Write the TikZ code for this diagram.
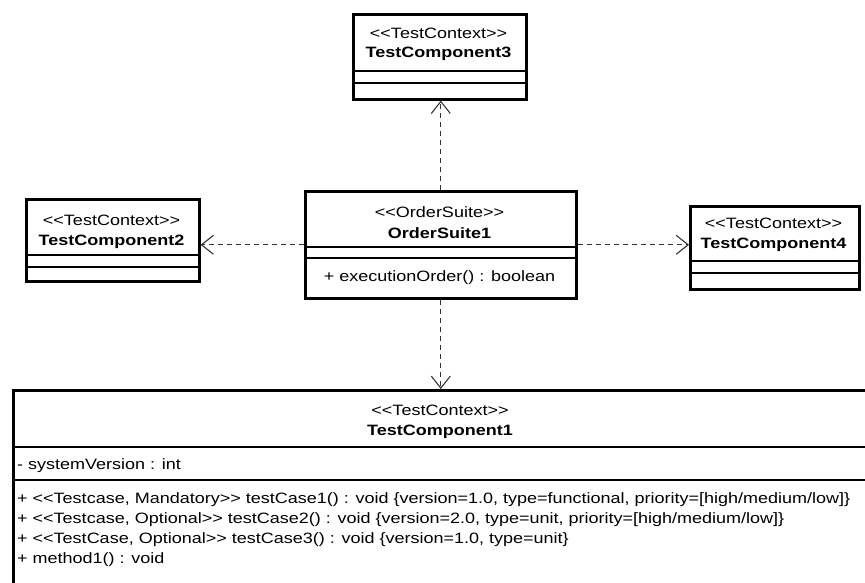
\documentclass[tikz,border=0pt]{standalone}
\usepackage{fontspec}
\newfontfamily\umlfont[FakeStretch=1.2,Ligatures=TeXOff]{Liberation Sans}
\usetikzlibrary{arrows.meta}

\begin{document}
\begin{tikzpicture}[x=1pt,y=1pt,
  classbox/.style={draw=black, line width=2.6pt, fill=white, inner sep=0pt, anchor=north west},
  sepline/.style={draw=black, line width=1.3pt},
  umltext/.style={font=\umlfont\fontsize{15}{17}\selectfont, inner sep=0pt},
  stereo/.style={umltext},
  cname/.style={umltext, font=\umlfont\fontsize{15}{17}\selectfont\bfseries},
  member/.style={umltext, anchor=west},
  dep/.style={draw=black!80, line width=1pt, dash pattern=on 5pt off 4pt,
    -{Straight Barb[length=12pt, width=19pt, line width=1.1pt]}}
]
\useasboundingbox (0,0) rectangle (865,-583);
\clip (0,0) rectangle (865,-583);

% TestComponent3 (top)
\node[classbox, minimum width=173pt, minimum height=85pt] (tc3) at (352,-13) {};
\node[stereo] (tc3s) at (438.5,-33) {<<TestContext>>};
\node[cname] (tc3n) at (438.5,-54) {TestComponent3};
\draw[sepline] (tc3.west |- 0,-71) -- (tc3.east |- 0,-71);
\draw[sepline] (tc3.west |- 0,-83) -- (tc3.east |- 0,-83);

% TestComponent2 (left)
\node[classbox, minimum width=173pt, minimum height=82pt] (tc2) at (25,-198) {};
\node[stereo] (tc2s) at (111.5,-220) {<<TestContext>>};
\node[cname] (tc2n) at (111.5,-242) {TestComponent2};
\draw[sepline] (tc2.west |- 0,-255) -- (tc2.east |- 0,-255);
\draw[sepline] (tc2.west |- 0,-267) -- (tc2.east |- 0,-267);

% OrderSuite1 (centre)
\node[classbox, minimum width=271pt, minimum height=107pt] (os) at (304,-190) {};
\node[stereo] (oss) at (439.5,-212) {<<OrderSuite>>};
\node[cname] (osn) at (439.5,-233) {OrderSuite1};
\draw[sepline] (os.west |- 0,-247) -- (os.east |- 0,-247);
\draw[sepline] (os.west |- 0,-258) -- (os.east |- 0,-258);
\node[umltext] (osm) at (439.5,-278) {+ executionOrder() : boolean};

% TestComponent4 (right)
\node[classbox, minimum width=169pt, minimum height=83pt] (tc4) at (689,-205) {};
\node[stereo] (tc4s) at (773.5,-223) {<<TestContext>>};
\node[cname] (tc4n) at (773.5,-245) {TestComponent4};
\draw[sepline] (tc4.west |- 0,-261) -- (tc4.east |- 0,-261);
\draw[sepline] (tc4.west |- 0,-273) -- (tc4.east |- 0,-273);

% TestComponent1 (bottom, runs past the page edges)
\node[classbox, minimum width=856pt, minimum height=215pt] (tc1) at (12,-389) {};
\node[stereo] (tc1s) at (440,-410) {<<TestContext>>};
\node[cname] (tc1n) at (440,-432) {TestComponent1};
\draw[sepline] (tc1.west |- 0,-447) -- (tc1.east |- 0,-447);
\node[member] (tc1a) at (17,-466) {- systemVersion : int};
\draw[sepline] (tc1.west |- 0,-480) -- (tc1.east |- 0,-480);
\node[member] (tc1m1) at (17,-500) {+ <<Testcase, Mandatory>> testCase1() : void \{version=1.0, type=functional, priority=[high/medium/low]\}};
\node[member] (tc1m2) at (17,-520) {+ <<Testcase, Optional>> testCase2() : void \{version=2.0, type=unit, priority=[high/medium/low]\}};
\node[member] (tc1m3) at (17,-540) {+ <<TestCase, Optional>> testCase3() : void \{version=1.0, type=unit\}};
\node[member] (tc1m4) at (17,-560) {+ method1() : void};

% dependencies from the suite
\draw[dep] (os.north) -- (os.north |- tc3.south);
\draw[dep] (os.west) -- (os.west -| tc2.east);
\draw[dep] (os.east) -- (os.east -| tc4.west);
\draw[dep] (os.south) -- (os.south |- tc1.north);
\end{tikzpicture}
\end{document}
